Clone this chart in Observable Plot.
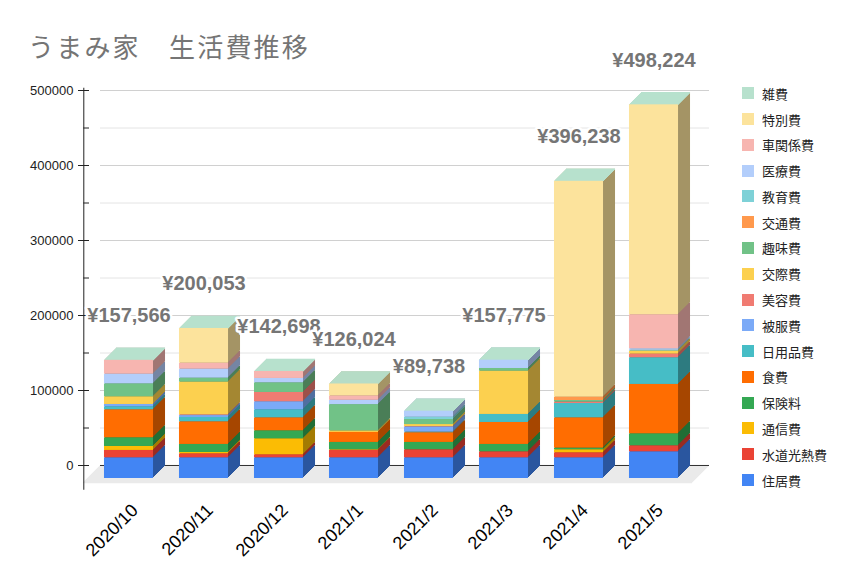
<!DOCTYPE html>
<html><head><meta charset="utf-8">
<script src="https://cdn.jsdelivr.net/npm/d3@7"></script>
<script src="https://cdn.jsdelivr.net/npm/@observablehq/plot@0.6"></script>
<style>
html,body{margin:0;padding:0;background:#fff;}
#wrap{position:relative;width:861px;height:581px;overflow:hidden;background:#fff;font-family:"Liberation Sans",Arial,"Noto Sans CJK JP",sans-serif;}
#wrap svg{position:absolute;left:0;top:0;}
#title{position:absolute;left:28px;top:30px;font-family:"Noto Sans CJK JP","Noto Sans",sans-serif;font-size:26px;line-height:32px;color:#757575;letter-spacing:2.2px;white-space:pre;}
.lg{position:absolute;left:742px;height:16px;display:flex;align-items:center;font-family:"Noto Sans CJK JP",sans-serif;font-size:13px;color:#222;white-space:nowrap;}
.lg span.sw{display:inline-block;width:12px;height:12px;margin-right:8px;}
</style>
</head><body>
<div id="wrap"><div id="title">うまみ家　生活費推移</div></div>
<script>
// ---- data ----
const categories = ["2020/10","2020/11","2020/12","2021/1","2021/2","2021/3","2021/4","2021/5"];
const seriesNames = ["住居費","水道光熱費","通信費","保険料","食費","日用品費","被服費","美容費","交際費","趣味費","交通費","教育費","医療費","車関係費","特別費","雑費"];
const seriesColors = ["#4285f4","#ea4335","#fbbc04","#34a853","#ff6d01","#46bdc6","#7baaf7","#f07b72","#fcd04f","#71c287","#ff994d","#7ed1d7","#b3cefb","#f7b5b0","#fce39c","#b7e1cd"];
const housing   = [27600,27600,27600,27600,27600,27600,27600,35600];
const utilities = [9800,5300,4000,9800,10700,8000,6700,8000];
const phone     = [5300,1800,21300,900,0,0,4000,0];
const insurance = [11600,10700,10700,9800,9800,9800,2200,16000];
const food      = [37300,30200,17300,13300,12900,29300,40400,65800];
const daily     = [4000,5800,10700,0,1000,10700,19100,35600];
const clothing  = [3100,2500,10700,0,6700,0,0,0];
const beauty    = [0,1000,12400,0,538,0,1800,4900];
const social    = [10200,43600,0,2000,2700,57675,0,4000];
const hobby     = [17300,5300,12900,35100,6700,3600,2200,0];
const transport = [0,0,0,0,0,0,4400,0];
const education = [0,0,0,0,3100,0,0,1100];
const medical   = [12900,12000,5800,5800,8000,11100,0,2000];
const car       = [18466,8000,9298,5800,0,0,0,45300];
const special   = [0,46253,0,15924,0,0,287838,279924];
const misc      = [0,0,0,0,0,0,0,0];
const yTicks = [0,100000,200000,300000,400000,500000];
const yMinorTicks = [50000,150000,250000,350000,450000];

const seriesValues = [housing,utilities,phone,insurance,food,daily,clothing,beauty,social,hobby,transport,education,medical,car,special,misc];

// ---- build table ----
const rows = [];
const totals = categories.map((c,i)=>{
  let acc = 0;
  seriesValues.forEach((vals,s)=>{
    const v = vals[i];
    rows.push({i, cat:c, series:seriesNames[s], color:seriesColors[s], side:d3.rgb(seriesColors[s]).darker(1.2).formatHex(), y1:acc, y2:acc+v});
    acc += v;
  });
  return {i, cat:c, total:acc};
});

// ---- layout constants ----
const FRONT = 13, DEPTH = 12, HALF = 0.327;
const px = p => (p - 128.5) / 75;   // pixel -> x index units (layout only)
const gx1 = px(100), gx2 = px(709);

const marks = [];
// floor
for (let k = 0; k <= 17; k++) marks.push(Plot.ruleY([0], {x1: gx1, x2: gx2, dx: -k, dy: k, stroke: "#eaeaea", strokeWidth: 1.5}));
// gridlines
marks.push(Plot.ruleY(yMinorTicks, {x1: gx1, x2: gx2, stroke: "#e4e4e4"}));
marks.push(Plot.ruleY(yTicks.filter(d=>d>0), {x1: gx1, x2: gx2, stroke: "#d0d0d0"}));
marks.push(Plot.ruleY([0], {x1: gx1, x2: gx2, stroke: "#333"}));
// y axis
marks.push(Plot.ruleX([px(83.3)], {y1: -33000, y2: 503000, stroke: "#222"}));
marks.push(Plot.ruleY(yTicks, {x1: px(78), x2: px(89), stroke: "#222"}));
marks.push(Plot.ruleY(yMinorTicks, {x1: px(83.3), x2: px(89), stroke: "#222"}));
marks.push(Plot.text(yTicks, {x: px(73), y: d=>d, text: d=>String(d), textAnchor: "end", fontSize: 13, fill: "#222"}));
// bar side faces
for (let k = DEPTH; k >= 1; k--) {
  marks.push(Plot.rect(rows, {x1: d=>d.i-HALF, x2: d=>d.i+HALF, y1: "y1", y2: "y2", fill: "side", dx: k, dy: FRONT-k}));
}
// top faces
for (let k = 0; k <= DEPTH; k++) {
  marks.push(Plot.ruleY(totals, {x1: d=>d.i-HALF, x2: d=>d.i+HALF, y: "total", stroke: seriesColors[seriesColors.length-1], strokeWidth: 1.6, dx: k, dy: FRONT-k}));
}
// front faces
marks.push(Plot.rect(rows, {x1: d=>d.i-HALF, x2: d=>d.i+HALF, y1: "y1", y2: "y2", fill: "color", dy: FRONT}));
// total labels
marks.push(Plot.text(totals, {x: "i", y: "total", text: d=>"¥"+d3.format(",")(d.total), dy: FRONT-38, lineAnchor: "bottom", fontSize: 20, fontWeight: "bold", fill: "#757575", stroke: "white", strokeWidth: 5}));
// x labels
marks.push(Plot.text(categories, {x: (d,i)=>i, y: 0, text: d=>d, rotate: -45, textAnchor: "end", lineAnchor: "bottom", dx: 10, dy: 46, fontSize: 18, fill: "#000"}));

const chart = Plot.plot({
  width: 861, height: 581,
  marginLeft: 0, marginRight: 0, marginTop: 0, marginBottom: 0,
  x: {type: "linear", domain: [0, 7], range: [128.5, 653.5], axis: null},
  y: {type: "linear", domain: [0, 500000], range: [465, 90], axis: null},
  color: {type: "identity"},
  style: {fontFamily: "'Liberation Sans', Arial, 'Noto Sans CJK JP', sans-serif", background: "transparent", overflow: "visible"},
  marks
});
const wrap = document.getElementById("wrap");
wrap.insertBefore(chart, wrap.firstChild);

// legend
seriesNames.slice().reverse().forEach((name, j)=>{
  const color = seriesColors[seriesNames.length-1-j];
  const row = document.createElement("div");
  row.className = "lg";
  row.style.top = (93.3 + j*25.78 - 8) + "px";
  const sw = document.createElement("span");
  sw.className = "sw"; sw.style.background = color;
  row.appendChild(sw);
  row.appendChild(document.createTextNode(name));
  wrap.appendChild(row);
});
</script>
</body></html>
